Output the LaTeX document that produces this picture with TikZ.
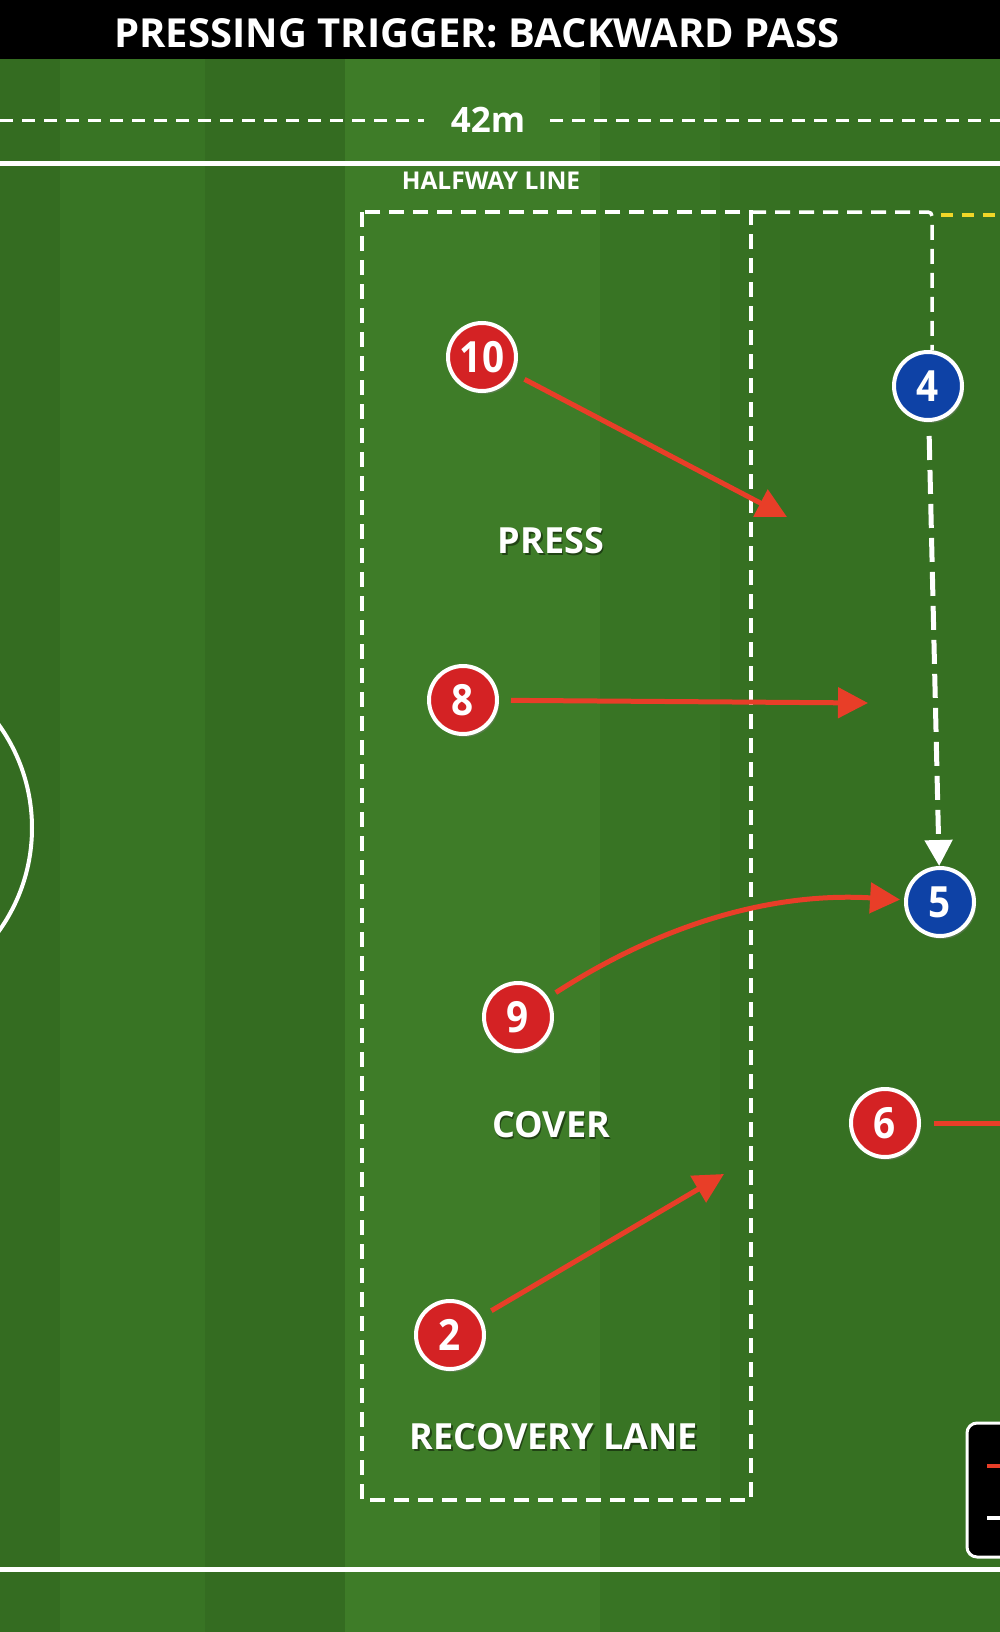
\documentclass[tikz,border=0pt]{standalone}
\usepackage{fontspec}
\setmainfont{Open Sans}
\newfontfamily\numfont{Open Sans}[FakeStretch=0.9]
\usetikzlibrary{arrows.meta,shadows}
\definecolor{grassA}{RGB}{56,116,36}
\definecolor{grassB}{RGB}{52,108,33}
\definecolor{grassC}{RGB}{62,124,40}
\definecolor{pred}{RGB}{212,34,36}
\definecolor{pblue}{RGB}{14,66,166}
\definecolor{runred}{RGB}{232,62,40}
\definecolor{yline}{RGB}{240,214,40}
\begin{document}
\begin{tikzpicture}[x=1pt,y=-1pt,
  player/.style={circle, minimum size=68pt, inner sep=0pt, line width=4pt, draw=white, text=white,
    font=\numfont\bfseries\fontsize{43}{43}\selectfont,
    drop shadow={opacity=.4, shadow xshift=2pt, shadow yshift=-3pt}},
  redp/.style={player, fill=pred},
  bluep/.style={player, fill=pblue},
  run/.style={draw=runred, line width=5pt, -{Triangle[length=30pt,width=30pt]}, shorten <=12pt},
  pass/.style={draw=white, line width=5pt, dash pattern=on 24pt off 10pt, -{Triangle[length=26pt,width=27pt]}},
  zone/.style={draw=white, line width=3.5pt, dash pattern=on 15pt off 9pt},
  lbl/.style={text=white, inner sep=0pt, font=\bfseries\fontsize{36}{36}\selectfont},
  lblshadow/.style={lbl, text=black, opacity=.45},
  pitchline/.style={draw=white, line width=5pt}
]
\useasboundingbox (0,0) rectangle (1000,1632);
% grass
\fill[grassA] (0,59) rectangle (1000,1632);
\fill[grassB] (0,59) rectangle (60,1632);
\fill[grassB] (205,59) rectangle (345,1632);
\fill[grassC] (345,59) rectangle (600,1632);
\fill[grassB!50!grassA] (720,59) rectangle (1000,1632);
% title bar
\fill[black] (0,0) rectangle (1000,59);
\node[text=white, inner sep=0pt, font=\bfseries\fontsize{40}{40}\selectfont] (title) at (477,33) {PRESSING TRIGGER: BACKWARD PASS};
% 42m measure
\node[lbl, font=\bfseries\fontsize{35}{35}\selectfont] (dist) at (488,120) {42m};
\coordinate (mL) at (0,121);
\coordinate (mR) at (1000,121);
\draw[zone, line width=3pt, dash pattern=on 13pt off 9pt] (mL) -- (424,121);
\draw[zone, line width=3pt, dash pattern=on 13pt off 9pt] (550,121) -- (mR);
% halfway line
\coordinate (hL) at (0,164);
\coordinate (hR) at (1000,164);
\draw[pitchline] (hL) -- (hR);
\node[text=white, inner sep=0pt, font=\bfseries\fontsize{24.5}{24.5}\selectfont] (half) at (491,181) {HALFWAY LINE};
% bottom line
\coordinate (bL) at (0,1569);
\coordinate (bR) at (1000,1569);
\draw[pitchline] (bL) -- (bR);
% centre circle
\coordinate (cc) at (-145,828);
\draw[white, line width=4pt] (cc) circle[radius=177];
% zone
\draw[zone] (362,212) rectangle (751,1500);
\coordinate (corner) at (932,212);
% legend box
\draw[fill=black, draw=white, line width=3pt, rounded corners=10pt] (967,1423) rectangle (1030,1557);
\coordinate (lr1) at (987,1466);
\coordinate (lr2) at (987,1518);
\draw[runred, line width=4pt] (lr1) -- ++(20,0);
\draw[white, line width=4pt] (lr2) -- ++(20,0);
% yellow
\coordinate (y1) at (941,215);
\draw[yline, line width=4pt, dash pattern=on 12pt off 9pt] (y1) -- (1000,215);
% labels
\node[lblshadow] (pressS) at (552.5,542.5) {PRESS};
\node[lbl] (press) at (551,541) {PRESS};
\node[lblshadow] (coverS) at (552.5,1126.5) {COVER};
\node[lbl] (cover) at (551,1125) {COVER};
\node[lblshadow] (recS) at (555.5,1438.5) {RECOVERY LANE};
\node[lbl] (rec) at (554,1437) {RECOVERY LANE};
% players
\node[redp] (p10) at (482,357) {10};
\node[bluep] (p4) at (928,386) {4};
\node[redp] (p8) at (463,700) {8};
\node[bluep] (p5) at (940,902) {5};
\node[redp] (p9) at (518,1017) {9};
\node[redp] (p6) at (885,1123) {6};
\node[redp] (p2) at (450,1335) {2};
% top dashed path to 4
\draw[zone, rounded corners=4pt] (751,212) -- (corner) -- (corner |- p4.north);
% pass 4 -> 5
\draw[pass, shorten <=14pt] (p4) -- (p5);
% runs
\coordinate (t10) at (787,517);
\coordinate (t8) at (868,703);
\coordinate (t2) at (724,1174);
\coordinate (t6) at (1080,1123);
\draw[run] (p10) -- (t10);
\draw[run] (p8) -- (t8);
\draw[run] (p2) -- (t2);
\draw[run, shorten <=13pt] (p6) -- (t6);
\draw[run, shorten <=9pt, shorten >=4pt] (p9) .. controls (662,924) and (772,892) .. (p5);
\end{tikzpicture}
\end{document}
